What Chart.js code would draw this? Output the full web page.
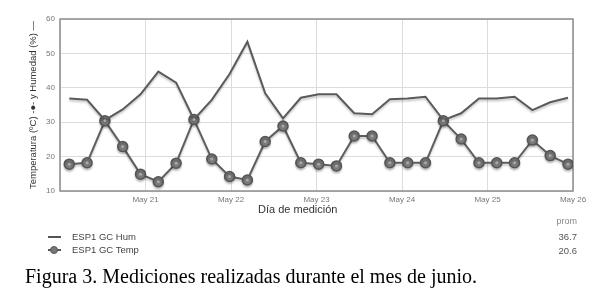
<!DOCTYPE html>
<html>
<head>
<meta charset="utf-8">
<script src="https://cdn.jsdelivr.net/npm/chart.js@4.4.1/dist/chart.umd.min.js"></script>
<style>
    body { margin: 0; background: #fff; }
    #wrap { position: relative; width: 601px; height: 302px; overflow: hidden; font-family: 'Liberation Sans', Arial, sans-serif; }
    #chart { position: absolute; left: 0; top: 0; }
    .txt { position: absolute; white-space: nowrap; }
    .icon { position: absolute; background: #555; height: 2px; }
    .dot { position: absolute; width: 6px; height: 6px; border-radius: 50%; background: #777; border: 1px solid #555; }
</style>
</head>
<body>
<div id="wrap">
    <canvas id="chart" width="601" height="220"></canvas>
    <div class="txt" style="left:258px; top:203px; font-size:11px; line-height:13px; color:#333;">Día de medición</div>
    <div class="txt" style="right:24px; top:215px; font-size:9px; line-height:12px; color:#888;">prom</div>
    <div class="icon" style="left:48px; top:236px; width:13px;"></div>
    <div class="txt" style="left:72px; top:231px; font-size:9.5px; line-height:12px; color:#444;">ESP1 GC Hum</div>
    <div class="txt" style="right:24px; top:231px; font-size:9.5px; line-height:12px; color:#555;">36.7</div>
    <div class="icon" style="left:48px; top:249px; width:13px; height:1.5px;"></div>
    <div class="dot" style="left:50px; top:246px;"></div>
    <div class="txt" style="left:72px; top:244px; font-size:9.5px; line-height:12px; color:#444;">ESP1 GC Temp</div>
    <div class="txt" style="right:24px; top:245px; font-size:9.5px; line-height:12px; color:#555;">20.6</div>
    <div class="txt" style="left:25px; top:266px; font-family:'Liberation Serif','Times New Roman',serif; font-size:20px; line-height:20px; color:#000;">Figura 3. Mediciones realizadas durante el mes de junio.</div>
</div>
<script>
// hours since May 20 00:00, one reading every 5 h
const hours = [2.6, 7.6, 12.6, 17.6, 22.6, 27.6, 32.6, 37.6, 42.6, 47.6, 52.6, 57.6, 62.6, 67.6, 72.6,
    77.6, 82.6, 87.6, 92.6, 97.6, 102.6, 107.6, 112.6, 117.6, 122.6, 127.6, 132.6, 137.6, 142.6];
const humValues = [36.9, 36.5, 30.6, 33.7, 38.1, 44.7, 41.5, 30.8, 36.5, 44.0, 53.4, 38.4, 31.1, 37.1, 38.1,
    38.1, 32.6, 32.3, 36.7, 36.9, 37.4, 30.6, 32.6, 36.9, 36.9, 37.4, 33.5, 35.8, 37.1];
const tempValues = [17.8, 18.2, 30.4, 22.9, 14.9, 12.7, 18.1, 30.8, 19.3, 14.2, 13.2, 24.4, 28.9, 18.2, 17.8,
    17.3, 26.0, 26.0, 18.2, 18.2, 18.2, 30.4, 25.1, 18.2, 18.2, 18.2, 24.8, 20.3, 17.8];
const dayLabels = ['', 'May 21', 'May 22', 'May 23', 'May 24', 'May 25', 'May 26'];
const yTicks = [10, 20, 30, 40, 50, 60];

const toPoints = (vals) => vals.map((v, i) => ({ x: hours[i], y: v }));

const plotStyle = {
    id: 'plotStyle',
    beforeDatasetsDraw(chart) {
        const { ctx, chartArea } = chart;
        ctx.save();
        ctx.strokeStyle = '#8c8c8c';
        ctx.lineWidth = 1.5;
        ctx.strokeRect(chartArea.left, chartArea.top, chartArea.right - chartArea.left, chartArea.bottom - chartArea.top);
        ctx.restore();
        ctx.save();
        ctx.shadowColor = 'rgba(0,0,0,0.22)';
        ctx.shadowOffsetY = 2;
        ctx.shadowBlur = 2;
    },
    afterDatasetsDraw(chart) {
        const ctx = chart.ctx;
        ctx.restore();
        // lighter centre on each temperature marker
        chart.getDatasetMeta(1).data.forEach(pt => {
            ctx.beginPath();
            ctx.arc(pt.x, pt.y, 1.5, 0, Math.PI * 2);
            ctx.fillStyle = '#a8a8a8';
            ctx.fill();
        });
    }
};

new Chart(document.getElementById('chart').getContext('2d'), {
    type: 'line',
    data: {
        datasets: [{
            label: 'ESP1 GC Hum',
            data: toPoints(humValues),
            borderColor: '#5a5a5a',
            borderWidth: 2,
            pointRadius: 0,
            tension: 0
        }, {
            label: 'ESP1 GC Temp',
            data: toPoints(tempValues),
            borderColor: '#5e5e5e',
            borderWidth: 2,
            pointRadius: 5,
            pointBackgroundColor: '#7a7a7a',
            pointBorderColor: '#555',
            pointBorderWidth: 1.5,
            tension: 0
        }]
    },
    options: {
        responsive: false,
        animation: false,
        layout: { padding: { left: 24, top: 19, right: 28, bottom: 0 } },
        plugins: { legend: { display: false }, tooltip: { enabled: false } },
        scales: {
            x: {
                type: 'linear',
                min: 0,
                max: 144,
                afterFit: (s) => { s.height = 29; },
                border: { display: false },
                grid: { color: '#dcdcdc', drawTicks: false },
                ticks: {
                    stepSize: 24,
                    autoSkip: false,
                    maxRotation: 0,
                    padding: 4,
                    color: '#777',
                    font: { family: 'Liberation Sans', size: 8 },
                    callback: (v) => dayLabels[Math.round(v / 24)] || ''
                }
            },
            y: {
                min: 10,
                max: 60,
                afterFit: (s) => { s.width = 36; },
                afterBuildTicks: (s) => { s.ticks = yTicks.map(v => ({ value: v })); },
                border: { display: false },
                grid: { color: '#dcdcdc', drawTicks: false },
                ticks: {
                    padding: 5,
                    color: '#777',
                    font: { family: 'Liberation Sans', size: 8 }
                },
                title: {
                    display: true,
                    text: 'Temperatura (ºC) -●- y Humedad (%) —',
                    color: '#333',
                    padding: { top: 4, bottom: 4 },
                    font: { family: 'Liberation Sans', size: 9.5 }
                }
            }
        }
    },
    plugins: [plotStyle]
});
</script>
</body>
</html>
